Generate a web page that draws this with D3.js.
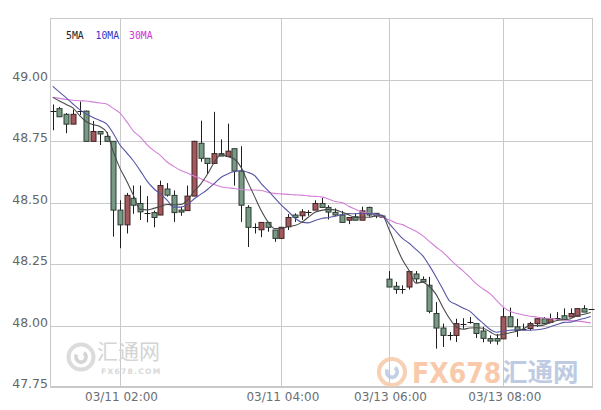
<!DOCTYPE html>
<html><head><meta charset="utf-8">
<script src="https://cdn.jsdelivr.net/npm/d3@7"></script>
<style>body{margin:0;background:#fff}svg{display:block}</style>
</head><body>
<svg id="c" width="601" height="410"></svg>
<script>
const openV  = [48.875,48.883,48.86,48.82,48.872,48.873,48.75,48.79,48.77,48.75,48.47,48.41,48.518,48.497,48.46,48.46,48.45,48.556,48.53,48.47,48.468,48.527,48.742,48.681,48.66,48.70,48.688,48.72,48.629,48.481,48.402,48.39,48.42,48.389,48.355,48.402,48.45,48.447,48.463,48.47,48.497,48.481,48.461,48.45,48.429,48.443,48.429,48.481,48.457,48.446,48.189,48.16,48.15,48.157,48.21,48.188,48.164,48.049,47.99,47.96,47.96,48.008,48.013,48.008,47.978,47.947,47.947,47.946,48.036,47.995,47.988,47.988,48.008,48.028,48.013,48.032,48.04,48.035,48.038,48.069,48.066];
const highV  = [48.90,48.89,48.865,48.88,48.912,48.875,48.833,48.79,48.788,48.75,48.51,48.54,48.57,48.57,48.527,48.468,48.59,48.58,48.55,48.484,48.57,48.752,48.834,48.681,48.87,48.758,48.822,48.72,48.73,48.49,48.416,48.42,48.42,48.389,48.40,48.454,48.457,48.474,48.47,48.51,48.52,48.49,48.477,48.467,48.44,48.457,48.484,48.484,48.458,48.447,48.222,48.178,48.164,48.224,48.222,48.20,48.198,48.096,48.008,47.974,48.028,48.03,48.035,48.008,47.995,47.96,47.966,48.073,48.073,48.028,48.008,48.015,48.03,48.035,48.049,48.055,48.07,48.07,48.07,48.083,48.066];
const lowV   = [48.795,48.85,48.783,48.82,48.857,48.75,48.75,48.735,48.75,48.362,48.315,48.375,48.455,48.43,48.42,48.40,48.45,48.525,48.422,48.447,48.468,48.527,48.667,48.617,48.66,48.69,48.688,48.57,48.422,48.32,48.375,48.36,48.382,48.341,48.352,48.389,48.422,48.43,48.447,48.47,48.481,48.432,48.446,48.42,48.413,48.429,48.429,48.443,48.437,48.44,48.157,48.13,48.13,48.147,48.174,48.178,48.05,47.906,47.913,47.94,47.933,47.987,48.008,47.949,47.932,47.926,47.922,47.946,47.995,47.954,47.98,47.98,47.995,48.008,48.013,48.02,48.025,48.035,48.038,48.055,48.066];
const closeV = [48.875,48.85,48.82,48.86,48.872,48.75,48.79,48.78,48.75,48.47,48.41,48.53,48.49,48.463,48.46,48.44,48.57,48.531,48.46,48.462,48.527,48.75,48.681,48.66,48.70,48.69,48.71,48.629,48.49,48.40,48.402,48.42,48.40,48.355,48.40,48.44,48.44,48.463,48.463,48.497,48.481,48.462,48.45,48.42,48.44,48.429,48.467,48.45,48.446,48.441,48.157,48.147,48.15,48.22,48.19,48.178,48.058,47.99,47.96,47.96,48.008,48.008,48.013,47.968,47.948,47.937,47.937,48.036,47.995,47.98,47.988,48.008,48.028,48.008,48.028,48.032,48.025,48.049,48.069,48.055,48.066];

const ma5  = [48.929,48.914,48.900,48.886,48.855,48.830,48.818,48.810,48.788,48.708,48.640,48.588,48.530,48.473,48.471,48.477,48.485,48.493,48.492,48.493,48.510,48.546,48.576,48.616,48.664,48.696,48.688,48.678,48.644,48.584,48.526,48.468,48.422,48.395,48.395,48.403,48.407,48.420,48.441,48.461,48.469,48.473,48.471,48.462,48.451,48.440,48.441,48.441,48.446,48.447,48.392,48.328,48.268,48.223,48.173,48.177,48.159,48.127,48.075,48.029,47.995,47.985,47.990,47.991,47.989,47.975,47.961,47.965,47.971,47.977,47.987,48.001,48.000,48.002,48.012,48.021,48.024,48.028,48.041,48.046,48.053];
const ma10 = [48.974,48.950,48.927,48.902,48.879,48.861,48.847,48.835,48.821,48.782,48.735,48.703,48.670,48.631,48.589,48.558,48.536,48.511,48.482,48.482,48.493,48.515,48.534,48.554,48.578,48.603,48.617,48.627,48.630,48.624,48.611,48.578,48.550,48.520,48.490,48.465,48.438,48.421,48.418,48.428,48.436,48.440,48.445,48.452,48.456,48.455,48.457,48.456,48.454,48.449,48.416,48.385,48.355,48.335,48.310,48.285,48.244,48.198,48.149,48.101,48.086,48.072,48.059,48.033,48.009,47.985,47.973,47.978,47.981,47.983,47.981,47.981,47.983,47.987,47.995,48.004,48.013,48.014,48.022,48.029,48.037];
const ma30 = [48.929,48.925,48.920,48.917,48.915,48.914,48.910,48.906,48.902,48.884,48.865,48.830,48.792,48.768,48.737,48.713,48.693,48.666,48.648,48.632,48.621,48.609,48.598,48.586,48.574,48.565,48.561,48.558,48.554,48.552,48.552,48.550,48.543,48.538,48.536,48.534,48.532,48.531,48.528,48.526,48.524,48.515,48.505,48.501,48.486,48.474,48.462,48.458,48.450,48.442,48.431,48.418,48.411,48.397,48.384,48.366,48.343,48.320,48.299,48.272,48.246,48.223,48.197,48.170,48.149,48.130,48.103,48.075,48.058,48.049,48.043,48.038,48.035,48.031,48.029,48.026,48.023,48.020,48.018,48.015,48.011];

const yTicks = [49.00, 48.75, 48.50, 48.25, 48.00, 47.75];
const xTickIndex = [10, 34, 50, 67];
const xTickLabels = ["03/11 02:00", "03/11 04:00", "03/13 06:00", "03/13 08:00"];
const legendNames = ["5MA", "10MA", "30MA"];

const svg = d3.select("#c");
const L = 50, R = 593, T = 18, B = 387;
const x = d3.scaleBand().domain(d3.range(closeV.length)).range([49.4, 594.1]).padding(0);
const y = d3.scaleLinear().domain([47.75, 49.25]).range([B, 18.5]);
const cx = i => x(i) + x.bandwidth() / 2;
const gridC = "#c9c9c9";

// horizontal grid
svg.append("g").selectAll("line").data(yTicks).join("line")
  .attr("x1", L).attr("x2", R)
  .attr("y1", d => Math.round(y(d)) + 0.5).attr("y2", d => Math.round(y(d)) + 0.5)
  .attr("stroke", gridC).attr("stroke-width", 1);
// vertical grid
svg.append("g").selectAll("line").data(xTickIndex).join("line")
  .attr("x1", d => Math.round(cx(d)) + 0.5).attr("x2", d => Math.round(cx(d)) + 0.5)
  .attr("y1", T).attr("y2", B)
  .attr("stroke", gridC).attr("stroke-width", 1);
// frame
svg.append("rect").attr("x", L + 0.5).attr("y", T + 0.5).attr("width", R - L - 1).attr("height", B - T - 1)
  .attr("fill", "none").attr("stroke", gridC);

// y labels
svg.append("g").selectAll("text").data(yTicks).join("text")
  .attr("x", 48).attr("y", d => Math.round(y(d)) + 0.5)
  .attr("text-anchor", "end").attr("font-family", "DejaVu Sans").attr("font-size", 12.5)
  .attr("fill", "#666").text(d => d.toFixed(2));
// x labels
svg.append("g").selectAll("text").data(xTickIndex).join("text")
  .attr("x", d => cx(d) + 1.5).attr("y", 400.5)
  .attr("text-anchor", "middle").attr("font-family", "DejaVu Sans").attr("font-size", 12)
  .attr("fill", "#6a6e74").text((d, k) => xTickLabels[k]);

// watermarks
const wm = svg.append("g");
function swirl(g, cxp, cyp, r, c1, c2, op) {
  g.append("circle").attr("cx", cxp).attr("cy", cyp).attr("r", r).attr("fill", "none")
    .attr("stroke", c1).attr("stroke-width", r * 0.32).attr("opacity", op);
  g.append("path").attr("d", d3.arc()({innerRadius: r * 0.25, outerRadius: r * 0.55, startAngle: 0.6, endAngle: 5.2}))
    .attr("transform", `translate(${cxp},${cyp})`).attr("fill", c2).attr("opacity", op);
}
swirl(wm, 81, 357, 12.5, "#d8d8d8", "#d0d0d0", 0.9);
wm.append("text").attr("x", 97).attr("y", 359).attr("font-family", "Noto Sans CJK SC").attr("font-size", 21)
  .attr("fill", "#d4d4d4").text("汇通网");
wm.append("text").attr("x", 101).attr("y", 374).attr("font-family", "DejaVu Sans").attr("font-weight", "bold")
  .attr("font-size", 7.5).attr("letter-spacing", 1.3).attr("fill", "#d8d8d8").text("FX678.COM");
swirl(wm, 392, 372, 13, "#f4c9a8", "#b9c8e0", 0.85);
wm.append("text").attr("x", 412).attr("y", 382.5).attr("font-family", "DejaVu Sans Condensed").attr("font-weight", "bold")
  .attr("font-size", 28).attr("fill", "#f6b98f").attr("opacity", 0.75).text("FX678");
wm.append("text").attr("x", 502).attr("y", 381).attr("font-family", "Noto Sans CJK SC").attr("font-weight", "bold")
  .attr("font-size", 25.5).attr("fill", "#aebfdc").attr("opacity", 0.8).text("汇通网");

// candles
const cg = svg.append("g");
const idx = d3.range(closeV.length);
cg.selectAll("line.w").data(idx).join("line").attr("class", "w")
  .attr("x1", i => Math.round(cx(i)) + 0.5).attr("x2", i => Math.round(cx(i)) + 0.5)
  .attr("y1", i => y(highV[i])).attr("y2", i => y(lowV[i]))
  .attr("stroke", "#1e1e1e").attr("stroke-width", 1);
cg.selectAll("g.b").data(idx).join("g").attr("class", "b").each(function (i) {
  const g = d3.select(this);
  const up = closeV[i] > openV[i];
  const top = y(Math.max(openV[i], closeV[i]));
  const bot = y(Math.min(openV[i], closeV[i]));
  const xc = Math.round(cx(i));
  if (bot - top < 1.2) {
    g.append("line").attr("x1", xc - 2.5).attr("x2", xc + 3.5)
      .attr("y1", Math.round(top) + 0.5).attr("y2", Math.round(top) + 0.5)
      .attr("stroke", "#1e1e1e");
  } else {
    g.append("rect").attr("x", xc - 2).attr("y", top)
      .attr("width", 5).attr("height", bot - top)
      .attr("fill", up ? "#a3595b" : "#789a84")
      .attr("stroke", up ? "#3f2223" : "#2b3a31").attr("stroke-width", 1);
  }
});

// MA lines
const line = arr => d3.line().x((d, i) => cx(i)).y(d => y(d)).curve(d3.curveMonotoneX)(arr);
svg.append("path").attr("d", line(ma30)).attr("fill", "none").attr("stroke", "#d27fd8").attr("stroke-width", 1.1);
svg.append("path").attr("d", line(ma10)).attr("fill", "none").attr("stroke", "#5656a6").attr("stroke-width", 1.1);
svg.append("path").attr("d", line(ma5)).attr("fill", "none").attr("stroke", "#4a4a4a").attr("stroke-width", 1.1);

// legend
const legColors = ["#222222", "#3434c4", "#d035d0"];
const legX = [66, 95.5, 129];
svg.append("g").selectAll("text").data(legendNames).join("text")
  .attr("x", (d, k) => legX[k]).attr("y", 39)
  .attr("font-family", "DejaVu Sans Mono").attr("font-size", 9.8)
  .attr("fill", (d, k) => legColors[k]).text(d => d);
</script>
</body></html>
